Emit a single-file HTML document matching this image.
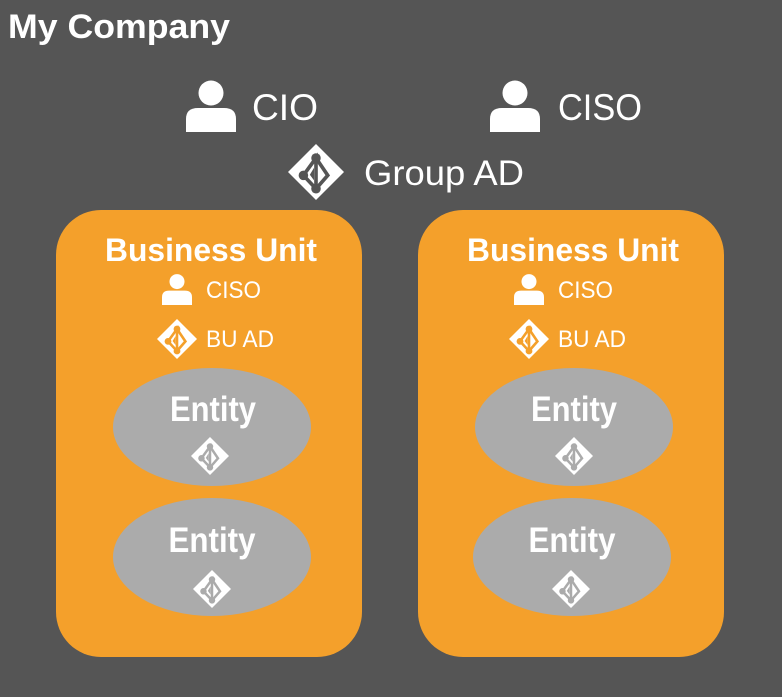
<!DOCTYPE html>
<html><head><meta charset="utf-8"><style>
html,body{margin:0;padding:0;background:#555555;}
svg{display:block}
text{font-family:"Liberation Sans",sans-serif;fill:#fff}
</style></head><body>
<svg width="782" height="697" viewBox="0 0 782 697" xmlns="http://www.w3.org/2000/svg">
<defs>
<g id="person">
<circle cx="0" cy="-14" r="12.5" fill="#fff"/>
<path d="M-25,25 L-25,12 Q-25,1 -13,1 L13,1 Q25,1 25,12 L25,25 Z" fill="#fff"/>
</g>
<g id="ad">
<path d="M0,-1 L1,0 L0,1 L-1,0 Z" fill="#fff"/>
<g stroke="var(--c)" stroke-width="0.13" fill="none">
<path d="M0,-0.5 L-0.45,0.12 L0,0.6 Z"/>
<path d="M0,-0.5 L0.42,0.12 L0,0.6"/>
</g>
<circle cx="0" cy="-0.5" r="0.17" fill="var(--c)"/>
<circle cx="-0.45" cy="0.12" r="0.17" fill="var(--c)"/>
<circle cx="0" cy="0.6" r="0.17" fill="var(--c)"/>
<path d="M-0.07,-0.15 L-0.22,0.1 L-0.07,0.3 Z" fill="var(--c)"/>
</g>
</defs>
<rect width="782" height="697" fill="#555555"/>
<text x="8" y="38" font-size="34" font-weight="bold" textLength="222" lengthAdjust="spacingAndGlyphs">My Company</text>

<use href="#person" x="211" y="107"/>
<text x="252" y="120" font-size="37" textLength="66" lengthAdjust="spacingAndGlyphs">CIO</text>
<use href="#person" x="515" y="107"/>
<text x="558" y="120" font-size="37" textLength="84" lengthAdjust="spacingAndGlyphs">CISO</text>
<g style="--c:#555555" transform="translate(316,172) scale(28)"><use href="#ad"/></g>
<text x="364" y="185" font-size="35" textLength="160" lengthAdjust="spacingAndGlyphs">Group AD</text>

<!-- Left BU -->
<rect x="56" y="210" width="306" height="447" rx="45" fill="#F4A02B"/>
<text x="211" y="261" font-size="32" font-weight="bold" text-anchor="middle" textLength="212" lengthAdjust="spacingAndGlyphs">Business Unit</text>
<g transform="translate(177,290) scale(0.6)"><use href="#person"/></g>
<text x="206" y="298" font-size="24" textLength="55" lengthAdjust="spacingAndGlyphs">CISO</text>
<g style="--c:#F4A02B" transform="translate(177,339) scale(20)"><use href="#ad"/></g>
<text x="206" y="347" font-size="24" textLength="68" lengthAdjust="spacingAndGlyphs">BU AD</text>
<ellipse cx="212" cy="427" rx="99" ry="59" fill="#ABABAB"/>
<text x="213" y="421" font-size="35" font-weight="bold" text-anchor="middle" textLength="86" lengthAdjust="spacingAndGlyphs">Entity</text>
<g style="--c:#ABABAB" transform="translate(210,456) scale(19)"><use href="#ad"/></g>
<ellipse cx="212" cy="557" rx="99" ry="59" fill="#ABABAB"/>
<text x="212" y="552" font-size="35" font-weight="bold" text-anchor="middle" textLength="87" lengthAdjust="spacingAndGlyphs">Entity</text>
<g style="--c:#ABABAB" transform="translate(212,589) scale(19)"><use href="#ad"/></g>

<!-- Right BU -->
<rect x="418" y="210" width="306" height="447" rx="45" fill="#F4A02B"/>
<text x="573" y="261" font-size="32" font-weight="bold" text-anchor="middle" textLength="212" lengthAdjust="spacingAndGlyphs">Business Unit</text>
<g transform="translate(529,290) scale(0.6)"><use href="#person"/></g>
<text x="558" y="298" font-size="24" textLength="55" lengthAdjust="spacingAndGlyphs">CISO</text>
<g style="--c:#F4A02B" transform="translate(529,339) scale(20)"><use href="#ad"/></g>
<text x="558" y="347" font-size="24" textLength="68" lengthAdjust="spacingAndGlyphs">BU AD</text>
<ellipse cx="574" cy="427" rx="99" ry="59" fill="#ABABAB"/>
<text x="574" y="421" font-size="35" font-weight="bold" text-anchor="middle" textLength="86" lengthAdjust="spacingAndGlyphs">Entity</text>
<g style="--c:#ABABAB" transform="translate(574,456) scale(19)"><use href="#ad"/></g>
<ellipse cx="572" cy="557" rx="99" ry="59" fill="#ABABAB"/>
<text x="572" y="552" font-size="35" font-weight="bold" text-anchor="middle" textLength="87" lengthAdjust="spacingAndGlyphs">Entity</text>
<g style="--c:#ABABAB" transform="translate(571,589) scale(19)"><use href="#ad"/></g>
</svg>
</body></html>
